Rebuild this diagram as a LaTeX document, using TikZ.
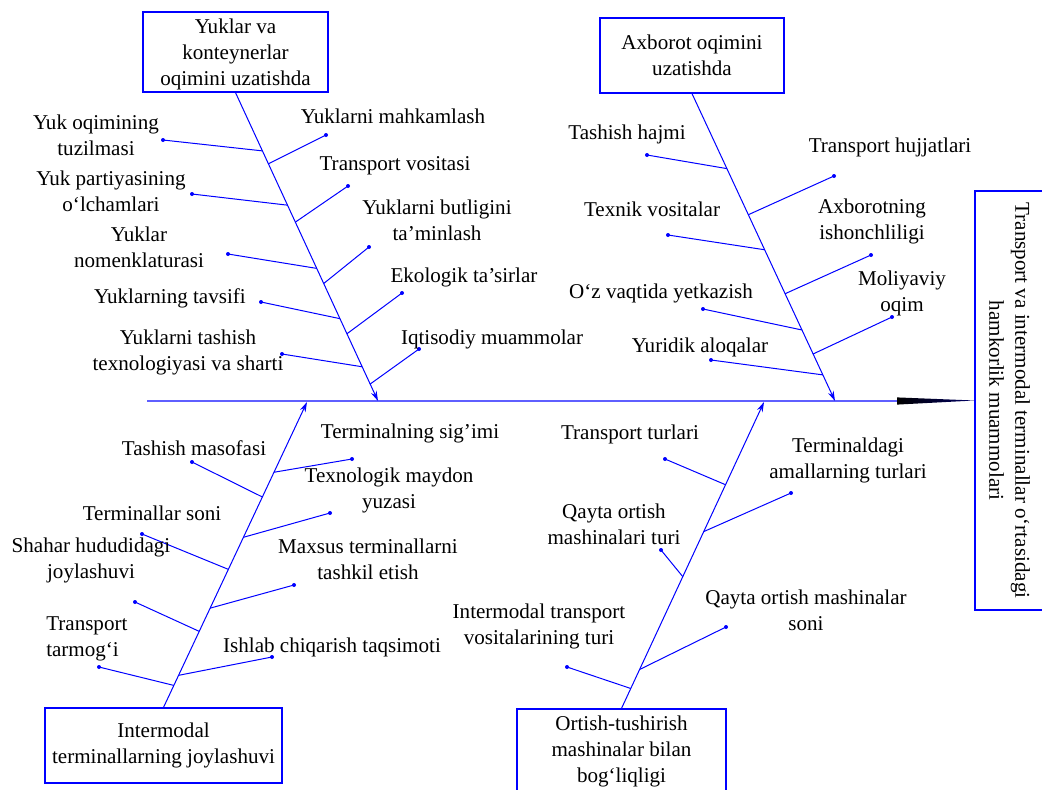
\documentclass[tikz,border=0pt]{standalone}
\usepackage{fontspec}
\setmainfont{Liberation Serif}
\usetikzlibrary{arrows.meta,calc}
\newcommand\fbfont{\fontsize{15.8pt}{19.5pt}\selectfont}
\definecolor{fbblue}{RGB}{0,0,255}
\definecolor{fbaxis}{RGB}{95,95,255}
\begin{document}
\begin{tikzpicture}[x=0.75pt,y=-0.75pt,
  bone/.style={draw=fbblue, line width=0.75pt},
  spine/.style={bone, -{Stealth[length=7.5pt,width=4.5pt]}},
  catbox/.style={draw=fbblue, line width=0.9pt, align=center, inner sep=0pt, font=\fbfont},
  lbl/.style={align=center, inner sep=0pt, font=\fbfont},
  tipdot/.style={circle, fill=fbblue, inner sep=0pt, minimum size=3pt}]
\useasboundingbox (0,0) rectangle (1042,789);

% category boxes and effect box
\node[catbox, minimum width=138.75pt, minimum height=60pt] (b1) at (235.5,52) {};
\node[lbl] (b1t) at (235.5,54.5) {Yuklar va\\konteynerlar\\oqimini uzatishda};
\node[catbox, minimum width=138pt, minimum height=56.25pt] (b2) at (692,55.5)
  {Axborot oqimini\\uzatishda};
\node[catbox, minimum width=177.75pt, minimum height=56.25pt] (b3) at (163.5,745.5)
  {Intermodal\\terminallarning joylashuvi};
\node[catbox, minimum width=156.75pt, minimum height=63pt] (b4) at (621.5,751)
  {Ortish-tushirish\\mashinalar bilan\\bog‘liqligi};
\node[catbox, minimum width=60pt, minimum height=314.25pt] (b5) at (1015,400.5) {};
\node[lbl, rotate=-90] (b5t) at (1009.5,400.5)
  {Transport va intermodal terminallar o‘rtasidagi\\hamkorlik muammolari};

% main axis
\coordinate (tail) at (147,401);
\coordinate (wedge) at (897,401);
\draw[draw=fbaxis, line width=0.9pt] (tail) -- (wedge);
\shade[left color=black, right color=black!60!fbblue]
  ($(wedge)+(0,-3.6)$) -- ($(wedge)+(0,3.6)$) -- (b5.west) -- cycle;

% spines
\coordinate (h1) at (378,401);
\coordinate (h2) at (835,401);
\coordinate (h3) at (307,402);
\coordinate (h4) at (764,402);
\draw[spine] (b1.south) -- (h1);
\draw[spine] (b2.south) -- (h2);
\draw[spine] (b3.north) -- (h3);
\draw[spine] (b4.north) -- (h4);

% junctions on the spines
\foreach \n/\t in {a/0.189,b/0.365,c/0.570,d/0.733,e/0.889}
  \coordinate (jl1\n) at ($(b1.south)!\t!(h1)$);
\foreach \n/\t in {a/0.231,b/0.420,c/0.619,d/0.782,e/0.945}
  \coordinate (jr1\n) at ($(b1.south)!\t!(h1)$);
\foreach \n/\t in {a/0.244,b/0.508,c/0.769,d/0.915}
  \coordinate (jl2\n) at ($(b2.south)!\t!(h2)$);
\foreach \n/\t in {a/0.394,b/0.651,c/0.847}
  \coordinate (jr2\n) at ($(b2.south)!\t!(h2)$);
\foreach \n/\t in {a/0.689,b/0.452,c/0.249,d/0.072}
  \coordinate (jl3\n) at ($(b3.north)!\t!(h3)$);
\foreach \n/\t in {a/0.770,b/0.557,c/0.325,d/0.105}
  \coordinate (jr3\n) at ($(b3.north)!\t!(h3)$);
\foreach \n/\t in {a/0.730,b/0.430,c/0.065}
  \coordinate (jl4\n) at ($(b4.north)!\t!(h4)$);
\foreach \n/\t in {a/0.577,b/0.127}
  \coordinate (jr4\n) at ($(b4.north)!\t!(h4)$);

% branch end dots
\foreach \n/\p in {a/{(163,140)},b/{(192,194)},c/{(228,254)},d/{(261,302)},e/{(282,354)}}
  \node[tipdot] (dl1\n) at \p {};
\foreach \n/\p in {a/{(326,135)},b/{(348,186)},c/{(369,247)},d/{(402,293)},e/{(419,349)}}
  \node[tipdot] (dr1\n) at \p {};
\foreach \n/\p in {a/{(647,155)},b/{(668,235)},c/{(703,309)},d/{(711,360)}}
  \node[tipdot] (dl2\n) at \p {};
\foreach \n/\p in {a/{(834,176)},b/{(871,255)},c/{(892,317)}}
  \node[tipdot] (dr2\n) at \p {};
\foreach \n/\p in {a/{(192,462)},b/{(142,534)},c/{(135,602)},d/{(99,667)}}
  \node[tipdot] (dl3\n) at \p {};
\foreach \n/\p in {a/{(352,459)},b/{(330,513)},c/{(294,585)},d/{(272,657)}}
  \node[tipdot] (dr3\n) at \p {};
\foreach \n/\p in {a/{(665,459)},b/{(661,550)},c/{(567,667)}}
  \node[tipdot] (dl4\n) at \p {};
\foreach \n/\p in {a/{(791,493)},b/{(726,627)}}
  \node[tipdot] (dr4\n) at \p {};

% branches
\foreach \n in {a,b,c,d,e} {
  \draw[bone] (jl1\n) -- (dl1\n.center);
  \draw[bone] (jr1\n) -- (dr1\n.center);
}
\foreach \n in {a,b,c,d} {
  \draw[bone] (jl2\n) -- (dl2\n.center);
  \draw[bone] (jl3\n) -- (dl3\n.center);
  \draw[bone] (jr3\n) -- (dr3\n.center);
}
\foreach \n in {a,b,c} {
  \draw[bone] (jr2\n) -- (dr2\n.center);
  \draw[bone] (jl4\n) -- (dl4\n.center);
}
\foreach \n in {a,b}
  \draw[bone] (jr4\n) -- (dr4\n.center);

% causes: cargo and container flow
\node[lbl] (tl1a) at (96,135.5) {Yuk oqimining\\tuzilmasi};
\node[lbl] (tl1b) at (111,191) {Yuk partiyasining\\o‘lchamlari};
\node[lbl] (tl1c) at (139,247) {Yuklar\\nomenklaturasi};
\node[lbl] (tl1d) at (170,298) {Yuklarning tavsifi};
\node[lbl] (tl1e) at (188,352) {Yuklarni tashish\\texnologiyasi va sharti};
\node[lbl] (tr1a) at (393,116) {Yuklarni mahkamlash};
\node[lbl] (tr1b) at (395,166) {Transport vositasi};
\node[lbl] (tr1c) at (437,220.5) {Yuklarni butligini\\ta’minlash};
\node[lbl] (tr1d) at (464,277) {Ekologik ta’sirlar};
\node[lbl] (tr1e) at (492,339) {Iqtisodiy muammolar};

% causes: information flow
\node[lbl] (tl2a) at (627,134) {Tashish hajmi};
\node[lbl] (tl2b) at (652,209) {Texnik vositalar};
\node[lbl] (tl2c) at (661,293) {O‘z vaqtida yetkazish};
\node[lbl] (tl2d) at (700,347) {Yuridik aloqalar};
\node[lbl] (tr2a) at (890,147) {Transport hujjatlari};
\node[lbl] (tr2b) at (872,221) {Axborotning\\ishonchliligi};
\node[lbl] (tr2c) at (902,293) {Moliyaviy\\oqim};

% causes: terminal location
\node[lbl] (tl3a) at (194,448) {Tashish masofasi};
\node[lbl] (tl3b) at (152,513) {Terminallar soni};
\node[lbl] (tl3c) at (91,560.5) {Shahar hududidagi\\joylashuvi};
\node[lbl, align=left, anchor=west] (tl3d) at (46,638.5) {Transport\\tarmog‘i};
\node[lbl] (tr3a) at (410,433) {Terminalning sig’imi};
\node[lbl] (tr3b) at (389,490.5) {Texnologik maydon\\yuzasi};
\node[lbl] (tr3c) at (368,559) {Maxsus terminallarni\\tashkil etish};
\node[lbl] (tr3d) at (332,647) {Ishlab chiqarish taqsimoti};

% causes: handling machines
\node[lbl] (tl4a) at (630,434) {Transport turlari};
\node[lbl] (tl4b) at (614,524) {Qayta ortish\\mashinalari turi};
\node[lbl] (tl4c) at (539,626) {Intermodal transport\\vositalarining turi};
\node[lbl] (tr4a) at (848,460) {Terminaldagi\\amallarning turlari};
\node[lbl] (tr4b) at (806,610.5) {Qayta ortish mashinalar\\soni};
\end{tikzpicture}
\end{document}
